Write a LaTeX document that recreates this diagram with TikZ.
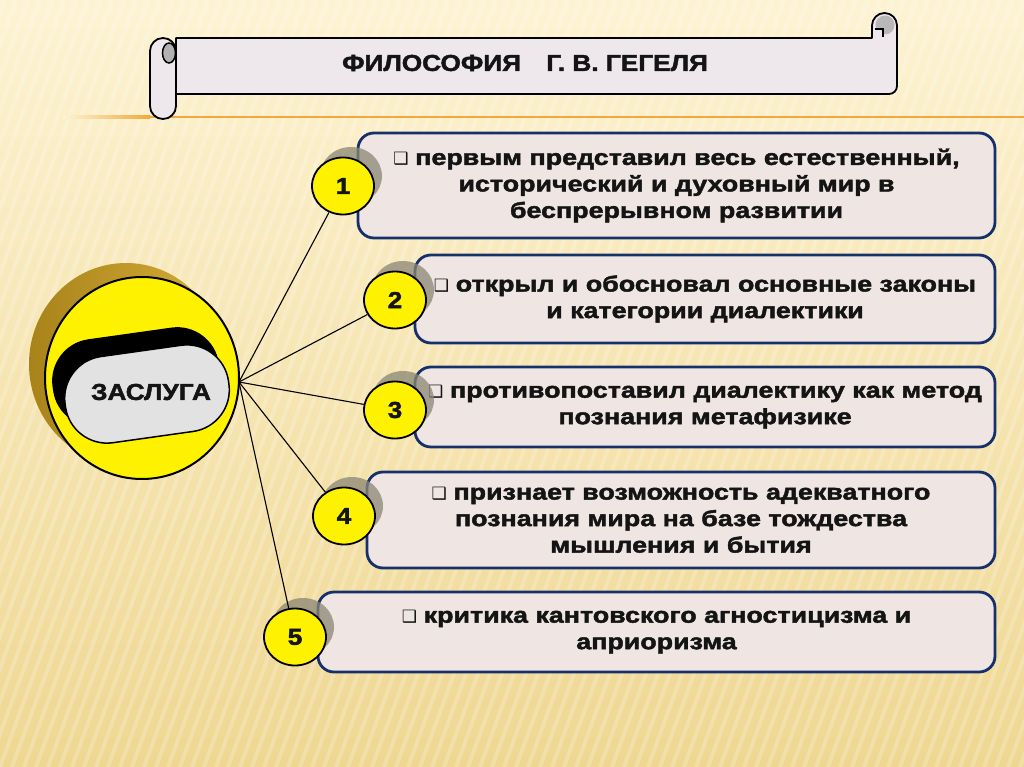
\documentclass[tikz,border=0pt]{standalone}
\usepackage{fontspec}
\setmainfont{Liberation Sans}
\newfontfamily\heavy[FakeStretch=1.22,FakeBold=2]{Liberation Sans Bold}
\newfontfamily\heavytitle[FakeStretch=1.14,FakeBold=2]{Liberation Sans Bold}
\newfontfamily\dejavu{DejaVu Sans}
\usetikzlibrary{shapes.geometric}
\definecolor{bgtop}{HTML}{FDF3D3}
\definecolor{bgbot}{HTML}{EFD792}
\definecolor{boxfill}{HTML}{EFE6E4}
\definecolor{navy}{HTML}{16306B}
\definecolor{orangeline}{HTML}{F2A93B}
\definecolor{scrollfill}{HTML}{EEE8EC}
\definecolor{golddark}{HTML}{A8831A}
\definecolor{goldlight}{HTML}{D6AE38}
\definecolor{pillfill}{HTML}{E2E2E2}
\definecolor{ink}{HTML}{141414}
\newcommand{\bul}{{\dejavu\fontsize{17}{17}\selectfont ❑}\hspace{0.3em}}
\begin{document}
\begin{tikzpicture}[x=1pt,y=-1pt,
 box/.style={draw=navy, line width=2.8pt, fill=boxfill, rounded corners=16pt, inner sep=0pt, align=center, text=ink, font=\heavy\fontsize{22}{26.5}\selectfont},
 numc/.style={ellipse, draw=black, line width=1.8pt, fill=yellow, minimum width=62pt, minimum height=57pt, inner sep=0pt, text=ink, font=\heavytitle\fontsize{23}{23}\selectfont},
 numshadow/.style={fill=black!45!bgtop, opacity=0.75},
 link/.style={draw=black, line width=1.1pt},
 scrollst/.style={draw=black, line width=1.8pt, fill=scrollfill, line join=round}]
\useasboundingbox (0,0) rectangle (1024,767);
% background
\shade[top color=bgtop, bottom color=bgbot] (0,0) rectangle (1024,767);
\begin{scope}
\clip (0,0) rectangle (1024,767);
\foreach \i in {-300,-288,...,1024} \draw[white, opacity=0.2, line width=4pt] (\i,767) -- (\i+280,0);
\end{scope}
% orange line
\shade[left color=bgtop, right color=orangeline] (63,116) rectangle (150,118.5);
\fill[orangeline] (150,116) rectangle (1024,118.5);
% scroll
\draw[scrollst] (176,94) -- (176,38) -- (872,38) [rounded corners=12.5pt] -- (872,13) -- (897,13) [rounded corners=8pt] -- (897,94) [sharp corners] -- cycle;
\fill[black!28] (885,25) circle [radius=9.5];
\fill[scrollfill] (874.5,29) rectangle (883,37);
\draw[black, line width=1.5pt] (874.5,29) -- (883,29) -- (883,37);
\draw[scrollst, rounded corners=13pt] (150,38) rectangle (176,119);
\draw[black, line width=1.5pt, fill=black!30] (169,53) ellipse [x radius=6.5, y radius=10];
\node[font=\heavytitle\fontsize{23}{23}\selectfont, text=ink] (title) at (525,63) {ФИЛОСОФИЯ\hspace{1.1em}Г. В. ГЕГЕЛЯ};
% disc
\shade[left color=golddark, right color=goldlight] (126,364) ellipse [x radius=97, y radius=101];
\draw[line width=2pt, fill=yellow] (142,378) ellipse [x radius=97, y radius=101];
\begin{scope}
\clip (142,378) ellipse [x radius=96, y radius=100];
\node[rotate=8, fill=black, rounded corners=42pt, minimum width=168pt, minimum height=88pt] (pillback) at (136,377) {};
\end{scope}
\node[rotate=8, draw=black, line width=1.5pt, fill=pillfill, rounded corners=42pt, minimum width=165pt, minimum height=87pt] (pill) at (147,394) {};
\node[font=\heavytitle\fontsize{23}{23}\selectfont, text=ink] (zaslabel) at (151,392) {ЗАСЛУГА};
\coordinate (hub) at (239,382);
% boxes
\node[box, minimum width=637pt, minimum height=105pt] (b1) at (676.5,185.5) {\bul первым представил весь естественный,\\исторический и духовный мир в\\беспрерывном развитии};
\node[box, minimum width=580pt, minimum height=88pt] (b2) at (705,299) {\bul открыл и обосновал основные законы\\и категории диалектики};
\node[box, minimum width=580pt, minimum height=80pt] (b3) at (705,407) {\bul противопоставил диалектику как метод\\познания метафизике};
\node[box, minimum width=628pt, minimum height=96pt] (b4) at (681,520) {\bul признает возможность адекватного\\познания мира на базе тождества\\мышления и бытия};
\node[box, minimum width=677pt, minimum height=80pt] (b5) at (656.5,632) {\bul критика кантовского агностицизма и\\априоризма};
% shadows
\fill[numshadow] (351,176) ellipse [x radius=31, y radius=29];
\fill[numshadow] (403,290) ellipse [x radius=31, y radius=29];
\fill[numshadow] (403,400) ellipse [x radius=31, y radius=29];
\fill[numshadow] (352,506) ellipse [x radius=31, y radius=29];
\fill[numshadow] (303,627) ellipse [x radius=31, y radius=29];
% number circles
\node[numc] (c1) at (343,186) {1};
\node[numc] (c2) at (395,300) {2};
\node[numc] (c3) at (395,410) {3};
\node[numc] (c4) at (344,516) {4};
\node[numc] (c5) at (295,637) {5};
% links
\draw[link] (hub) -- (c1);
\draw[link] (hub) -- (c2);
\draw[link] (hub) -- (c3);
\draw[link] (hub) -- (c4);
\draw[link] (hub) -- (c5);
\end{tikzpicture}
\end{document}
